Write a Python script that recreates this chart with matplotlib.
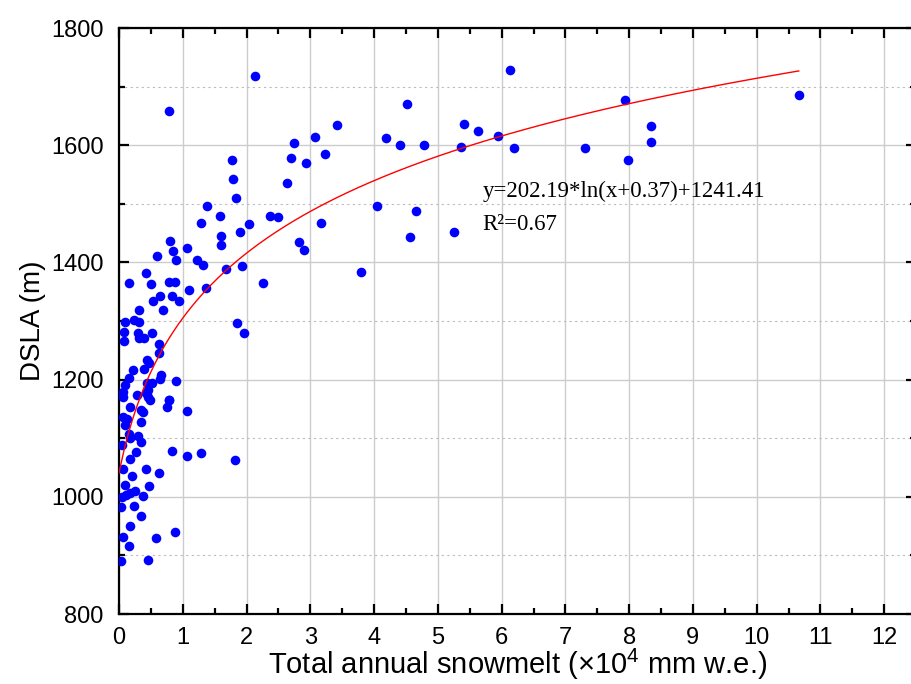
import numpy as np
import matplotlib
matplotlib.use("Agg")
import matplotlib.pyplot as plt
from matplotlib.ticker import MultipleLocator

plt.rcParams['font.family'] = ['Liberation Sans', 'DejaVu Sans']
plt.rcParams['mathtext.fontset'] = 'custom'
plt.rcParams['mathtext.rm'] = 'Liberation Sans'
plt.rcParams['mathtext.it'] = 'Liberation Sans'

# total annual snowmelt (x10^4 mm w.e.) and DSLA (m)
snowmelt = [0.79, 2.14, 3.42, 3.08, 2.74, 3.23, 2.70, 2.94, 1.77, 1.79,
            1.83, 2.64, 1.38, 1.58, 2.37, 2.49, 3.16, 4.05, 4.18, 4.41,
            4.52, 2.83, 2.90, 3.80, 4.78, 4.65, 4.57, 5.26, 5.36, 5.41,
            5.63, 5.95, 6.19, 7.30, 6.13, 7.94, 8.35, 8.34, 7.98, 10.66,
            2.04, 1.90, 1.28, 1.60, 1.60, 0.80, 0.84, 0.60, 1.06, 0.89,
            1.22, 1.32, 1.67, 1.93, 2.26, 0.42, 0.15, 0.50, 0.79, 0.88,
            1.09, 1.36, 0.64, 0.54, 0.83, 0.94, 0.69, 0.31, 0.24, 0.32,
            0.10, 0.08, 0.08, 0.30, 0.31, 0.39, 0.51, 1.85, 1.96, 0.62,
            0.62, 0.44, 0.47, 0.39, 0.22, 0.15, 0.66, 0.64, 0.89, 0.44,
            0.51, 0.10, 0.07, 0.46, 0.28, 0.07, 0.46, 0.78, 0.43, 0.49,
            0.17, 0.78, 0.76, 1.06, 0.34, 0.38, 0.07, 0.13, 0.34, 0.09,
            0.15, 0.30, 0.18, 0.34, 0.04, 0.83, 1.06, 1.28, 1.82, 0.26,
            0.17, 0.07, 0.43, 0.63, 0.21, 0.09, 0.47, 0.25, 0.11, 0.38,
            0.04, 0.18, 0.24, 0.03, 0.34, 0.18, 0.06, 0.58, 0.88, 0.16,
            0.03, 0.45]
dsla = [1659, 1719, 1634, 1614, 1603, 1585, 1579, 1570, 1574, 1542,
        1510, 1535, 1496, 1480, 1480, 1477, 1468, 1496, 1613, 1600,
        1671, 1435, 1422, 1384, 1601, 1488, 1444, 1452, 1597, 1636,
        1624, 1615, 1596, 1595, 1728, 1678, 1632, 1605, 1575, 1686,
        1466, 1452, 1468, 1445, 1430, 1437, 1420, 1411, 1424, 1404,
        1404, 1396, 1389, 1394, 1365, 1382, 1365, 1363, 1367, 1367,
        1353, 1357, 1342, 1335, 1342, 1335, 1319, 1319, 1302, 1299,
        1298, 1282, 1266, 1280, 1271, 1271, 1279, 1296, 1280, 1260,
        1245, 1233, 1229, 1219, 1216, 1202, 1208, 1201, 1198, 1194,
        1194, 1190, 1179, 1182, 1174, 1171, 1171, 1166, 1177, 1165,
        1154, 1165, 1153, 1147, 1148, 1144, 1136, 1132, 1128, 1122,
        1108, 1103, 1100, 1094, 1088, 1079, 1070, 1075, 1062, 1077,
        1065, 1047, 1047, 1040, 1035, 1020, 1018, 1010, 1003, 1001,
        1000, 1006, 984, 983, 967, 950, 932, 929, 940, 916,
        891, 893]

# fitted curve y = a*ln(x+b) + c
fit_a, fit_b, fit_c = 202.19, 0.37, 1241.41
fit_xmax = 10.66

fig = plt.figure(figsize=(9.12, 6.84), dpi=100)
ax = fig.add_axes([0.1305, 0.1023, 0.874, 0.8567])

ax.scatter(snowmelt, dsla, s=48, color='#0000ff', zorder=3, linewidths=0)
xf = np.linspace(0, fit_xmax, 300)
ax.plot(xf, fit_a * np.log(xf + fit_b) + fit_c, color='red', lw=1.0, zorder=4)

ax.set_xlim(0, 12.5)
ax.set_ylim(800, 1800)
ax.xaxis.set_major_locator(MultipleLocator(1))
ax.xaxis.set_minor_locator(MultipleLocator(0.5))
ax.yaxis.set_major_locator(MultipleLocator(200))
ax.yaxis.set_minor_locator(MultipleLocator(100))

ax.grid(which='major', color='#cccccc', lw=1.0, zorder=0)
ax.grid(which='minor', axis='y', color='#bbbbbb', lw=0.8, ls=(0, (2, 3)), zorder=0)
ax.set_axisbelow(True)

for sp in ax.spines.values():
    sp.set_linewidth(1.6)
ax.tick_params(which='both', direction='in', top=True, right=True, width=1.6)
ax.tick_params(which='major', length=7, labelsize=17)
ax.tick_params(which='minor', length=4)
ax.tick_params(axis='y', pad=11)
ax.tick_params(axis='x', pad=9)

ax.set_xlabel('Total annual snowmelt (×10$^4$ mm w.e.)', fontsize=21, labelpad=-1)
ax.set_ylabel('DSLA (m)', fontsize=20, labelpad=4)

ax.text(5.7, 1512, 'y=202.19*ln(x+0.37)+1241.41', family='Liberation Serif',
        fontsize=16.5, va='baseline')
ax.text(5.7, 1455, 'R²=0.67', family='Liberation Serif', fontsize=16.5, va='baseline')

fig.savefig('out.png', dpi=100)
